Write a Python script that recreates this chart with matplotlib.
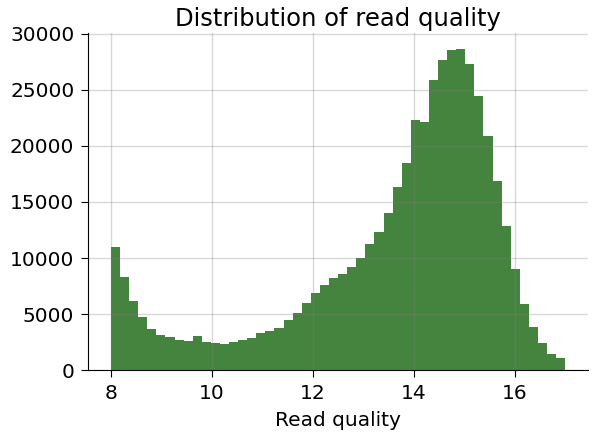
import numpy as np
import matplotlib
matplotlib.use('Agg')
import matplotlib.pyplot as plt

# Histogram of read quality: 50 bins between 8 and 17
bin_lo = 8.0
bin_hi = 17.0
counts = [11000, 8330, 6210, 4700, 3660, 3125, 2970, 2700, 2590, 3060,
          2530, 2410, 2375, 2530, 2680, 2880, 3270, 3480, 3780, 4460,
          5140, 6030, 6900, 7600, 8180, 8540, 9160, 9970, 11220, 12320,
          14045, 16300, 18500, 22290, 22170, 25890, 27700, 28540, 28625, 27260,
          24490, 20890, 16900, 12860, 9020, 5860, 3870, 2440, 1455, 1040]

edges = np.linspace(bin_lo, bin_hi, len(counts) + 1)
centers = (edges[:-1] + edges[1:]) / 2

fig, ax = plt.subplots(figsize=(6, 4.37), dpi=100)
fig.subplots_adjust(left=0.147, right=0.98, bottom=0.153, top=0.924)

ax.hist(centers, bins=edges, weights=counts, color='#44843f')

ax.set_ylim(0, 30050)
ax.set_xticks([8, 10, 12, 14, 16])
ax.set_yticks(range(0, 30001, 5000))
ax.grid(True, color='gray', alpha=0.3, linewidth=1)
ax.set_axisbelow(False)

ax.spines['top'].set_visible(False)
ax.spines['right'].set_visible(False)
ax.tick_params(labelsize=14.5, length=5, pad=5)

ax.set_title('Distribution of read quality', fontsize=17.5, pad=5)
ax.set_xlabel('Read quality', fontsize=14.5, labelpad=6)

plt.savefig('out.png')
